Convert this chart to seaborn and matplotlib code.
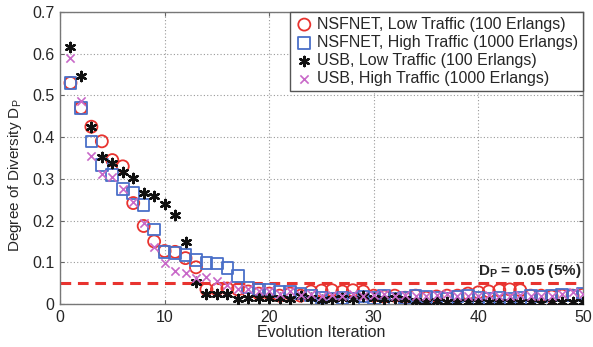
import numpy as np
import pandas as pd
import matplotlib
matplotlib.use("Agg")
import matplotlib.pyplot as plt
import seaborn as sns

iterations = list(range(1, 51))

nsfnet_low = [0.53, 0.47, 0.425, 0.39, 0.345, 0.33, 0.242, 0.187, 0.15, 0.127,
              0.125, 0.11, 0.088, 0.035, 0.035, 0.037, 0.035, 0.03, 0.025, 0.025,
              0.02, 0.025, 0.02, 0.03, 0.032, 0.033, 0.03, 0.033, 0.03, 0.02,
              0.018, 0.02, 0.015, 0.02, 0.015, 0.018, 0.02, 0.02, 0.025, 0.028,
              0.03, 0.033, 0.035, 0.033, 0.02, 0.02, 0.018, 0.02, 0.02, 0.022]
nsfnet_high = [0.53, 0.47, 0.39, 0.333, 0.309, 0.276, 0.266, 0.237, 0.179, 0.125,
               0.122, 0.118, 0.106, 0.098, 0.097, 0.087, 0.067, 0.04, 0.035, 0.033,
               0.03, 0.03, 0.025, 0.02, 0.015, 0.012, 0.015, 0.012, 0.018, 0.015,
               0.02, 0.012, 0.015, 0.02, 0.018, 0.015, 0.012, 0.018, 0.02, 0.015,
               0.012, 0.015, 0.012, 0.015, 0.02, 0.018, 0.02, 0.022, 0.02, 0.025]
usb_low = [0.615, 0.547, 0.425, 0.352, 0.338, 0.316, 0.302, 0.266, 0.259, 0.24,
           0.214, 0.148, 0.052, 0.024, 0.024, 0.024, 0.013, 0.015, 0.014, 0.015,
           0.015, 0.012, 0.018, 0.015, 0.01, 0.012, 0.015, 0.012, 0.018, 0.015,
           0.012, 0.015, 0.012, 0.006, 0.005, 0.006, 0.005, 0.004, 0.005, 0.004,
           0.005, 0.004, 0.004, 0.005, 0.004, 0.003, 0.004, 0.005, 0.004, 0.004]
usb_high = [0.59, 0.487, 0.355, 0.312, 0.305, 0.276, 0.245, 0.194, 0.137, 0.098,
            0.08, 0.075, 0.063, 0.065, 0.055, 0.045, 0.035, 0.035, 0.03, 0.03,
            0.025, 0.03, 0.022, 0.025, 0.02, 0.022, 0.02, 0.025, 0.02, 0.022,
            0.025, 0.02, 0.022, 0.018, 0.02, 0.022, 0.025, 0.02, 0.018, 0.02,
            0.022, 0.018, 0.02, 0.022, 0.02, 0.018, 0.02, 0.025, 0.028, 0.025]

series_labels = ["NSFNET, Low Traffic (100 Erlangs)",
                 "NSFNET, High Traffic (1000 Erlangs)",
                 "USB, Low Traffic (100 Erlangs)",
                 "USB, High Traffic (1000 Erlangs)"]
x_ticks = [0, 10, 20, 30, 40, 50]
y_ticks = [0, 0.1, 0.2, 0.3, 0.4, 0.5, 0.6, 0.7]
y_tick_labels = ["0", "0.1", "0.2", "0.3", "0.4", "0.5", "0.6", "0.7"]
threshold = 0.05

sns.set_style("ticks")
plt.rcParams["font.family"] = ["Liberation Sans", "DejaVu Sans"]
plt.rcParams["mathtext.fontset"] = "custom"
plt.rcParams["mathtext.rm"] = "Liberation Sans"
plt.rcParams["mathtext.it"] = "Liberation Sans"
plt.rcParams["mathtext.bf"] = "Liberation Sans:bold"

fig = plt.figure(figsize=(5.93, 3.47), dpi=100)
ax = fig.add_axes([60 / 593, 1 - 304 / 347, 523 / 593, 292 / 347])

red = "#e8332f"
blue = "#4a6fc8"
black = "#111111"
magenta = "#c868c8"

sns.scatterplot(x=iterations, y=nsfnet_low, marker="o", s=75, color=red,
                facecolor="none", edgecolor=red, linewidth=1.3, ax=ax,
                label=series_labels[0], zorder=3)
sns.scatterplot(x=iterations, y=nsfnet_high, marker="s", s=70, color=blue,
                facecolor="none", edgecolor=blue, linewidth=1.3, ax=ax,
                label=series_labels[1], zorder=3)
sns.scatterplot(x=iterations, y=usb_low, marker=(6, 2, 0), s=45, color=black,
                linewidth=1.7, ax=ax, label=series_labels[2], zorder=4)
sns.scatterplot(x=iterations, y=usb_high, marker="x", s=35, color=magenta,
                linewidth=1.2, ax=ax, label=series_labels[3], zorder=4)

ax.axhline(threshold, color=red, ls=(0, (3.5, 2.2)), lw=2.2, zorder=2)
ax.text(49.9, threshold + 0.007, r"$\mathbf{D_P}$" + " = 0.05 (5%)",
        ha="right", va="bottom", fontsize=11, fontweight="bold")

ax.set_xlim(0, 50)
ax.set_ylim(0, 0.7)
ax.set_xticks(x_ticks)
ax.set_yticks(y_ticks)
ax.set_yticklabels(y_tick_labels)
ax.grid(True, ls=(0, (1, 2)), color="#999999", lw=0.8)
ax.tick_params(direction="in", top=True, right=True, labelsize=11.5,
               length=3, color="#666666", pad=4)
for sp in ax.spines.values():
    sp.set_visible(True)
    sp.set_color("#777777")
    sp.set_linewidth(1.0)

ax.set_xlabel("Evolution Iteration", fontsize=11.5, labelpad=0)
ax.set_ylabel(r"Degree of Diversity $\mathregular{D_P}$", fontsize=11, labelpad=4)
ax.yaxis.set_label_coords(-0.068, 0.44)

leg = ax.legend(loc="upper right", fontsize=11.5, frameon=True, fancybox=False,
                borderaxespad=0.0, handletextpad=0.2, borderpad=0.3,
                labelspacing=0.2, handlelength=1.2)
leg.get_frame().set_edgecolor("#555555")
leg.get_frame().set_linewidth(1.0)
leg.get_frame().set_alpha(1)

fig.savefig("out.png", dpi=100)
